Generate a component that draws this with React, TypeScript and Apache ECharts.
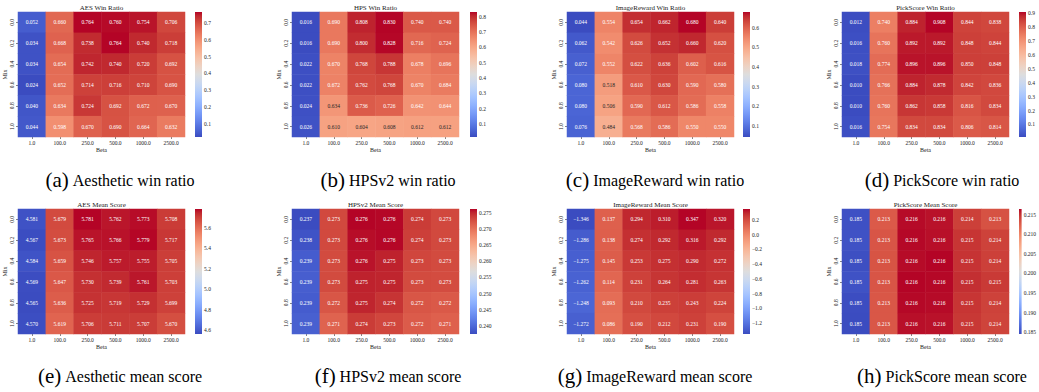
import React, { useEffect, useRef } from "react";
import * as echarts from "echarts";

// ---------- data ----------
const betaLabels = ["1.0", "100.0", "250.0", "500.0", "1000.0", "2500.0"];
const mixLabels = ["0.0", "0.2", "0.4", "0.6", "0.8", "1.0"];

const aesWin = [
  [0.052, 0.66, 0.764, 0.76, 0.754, 0.706],
  [0.034, 0.668, 0.738, 0.764, 0.74, 0.718],
  [0.034, 0.654, 0.742, 0.74, 0.72, 0.692],
  [0.024, 0.652, 0.714, 0.716, 0.71, 0.69],
  [0.04, 0.634, 0.724, 0.692, 0.672, 0.67],
  [0.044, 0.598, 0.67, 0.69, 0.664, 0.632],
];
const hpsWin = [
  [0.016, 0.69, 0.808, 0.83, 0.74, 0.74],
  [0.016, 0.69, 0.8, 0.828, 0.716, 0.724],
  [0.022, 0.67, 0.768, 0.788, 0.678, 0.696],
  [0.022, 0.672, 0.762, 0.768, 0.67, 0.684],
  [0.024, 0.634, 0.736, 0.726, 0.642, 0.644],
  [0.026, 0.61, 0.604, 0.608, 0.612, 0.612],
];
const irWin = [
  [0.044, 0.554, 0.654, 0.662, 0.68, 0.64],
  [0.062, 0.542, 0.626, 0.652, 0.66, 0.62],
  [0.072, 0.552, 0.622, 0.636, 0.602, 0.616],
  [0.08, 0.518, 0.61, 0.63, 0.59, 0.58],
  [0.08, 0.506, 0.59, 0.612, 0.586, 0.558],
  [0.076, 0.484, 0.568, 0.586, 0.55, 0.55],
];
const pickWin = [
  [0.012, 0.74, 0.884, 0.908, 0.844, 0.838],
  [0.016, 0.76, 0.892, 0.892, 0.848, 0.844],
  [0.018, 0.774, 0.896, 0.896, 0.85, 0.848],
  [0.01, 0.766, 0.884, 0.878, 0.842, 0.836],
  [0.01, 0.76, 0.862, 0.858, 0.816, 0.834],
  [0.016, 0.754, 0.834, 0.834, 0.806, 0.814],
];
const aesMean = [
  [4.581, 5.679, 5.781, 5.762, 5.773, 5.708],
  [4.567, 5.673, 5.765, 5.766, 5.779, 5.717],
  [4.584, 5.659, 5.746, 5.757, 5.755, 5.705],
  [4.569, 5.647, 5.73, 5.739, 5.761, 5.703],
  [4.565, 5.636, 5.725, 5.719, 5.729, 5.699],
  [4.57, 5.619, 5.706, 5.711, 5.707, 5.67],
];
const hpsMean = [
  [0.2374, 0.2731, 0.2763, 0.2762, 0.274, 0.2732],
  [0.238, 0.2731, 0.276, 0.2762, 0.2738, 0.2731],
  [0.2388, 0.273, 0.2758, 0.2753, 0.2733, 0.273],
  [0.239, 0.273, 0.2753, 0.2752, 0.273, 0.2729],
  [0.2388, 0.2722, 0.2752, 0.2744, 0.2722, 0.272],
  [0.2391, 0.2712, 0.274, 0.2733, 0.2718, 0.2714],
];
const irMean = [
  [-1.346, 0.137, 0.294, 0.31, 0.347, 0.32],
  [-1.286, 0.138, 0.274, 0.292, 0.316, 0.292],
  [-1.275, 0.145, 0.253, 0.275, 0.29, 0.272],
  [-1.262, 0.114, 0.231, 0.264, 0.281, 0.263],
  [-1.248, 0.093, 0.21, 0.235, 0.243, 0.224],
  [-1.272, 0.086, 0.19, 0.212, 0.231, 0.19],
];
const pickMean = [
  [0.1849, 0.2128, 0.2162, 0.216, 0.2143, 0.2133],
  [0.185, 0.2131, 0.2163, 0.2161, 0.2148, 0.2142],
  [0.1848, 0.2132, 0.2162, 0.2164, 0.2149, 0.2143],
  [0.185, 0.2131, 0.2164, 0.2163, 0.2151, 0.2146],
  [0.1847, 0.213, 0.2163, 0.2162, 0.2148, 0.2142],
  [0.1846, 0.213, 0.2161, 0.216, 0.2147, 0.2141],
];

const ticksWinA = [0.1, 0.2, 0.3, 0.4, 0.5, 0.6, 0.7];
const ticksWinB = [0.1, 0.2, 0.3, 0.4, 0.5, 0.6, 0.7, 0.8];
const ticksWinC = [0.1, 0.2, 0.3, 0.4, 0.5, 0.6];
const ticksWinD = [0.1, 0.2, 0.3, 0.4, 0.5, 0.6, 0.7, 0.8, 0.9];
const ticksMeanE = [4.6, 4.8, 5.0, 5.2, 5.4, 5.6];
const ticksMeanF = [0.24, 0.245, 0.25, 0.255, 0.26, 0.265, 0.27, 0.275];
const ticksMeanG = [-1.2, -1.0, -0.8, -0.6, -0.4, -0.2, 0.0, 0.2];
const ticksMeanH = [0.185, 0.19, 0.195, 0.2, 0.205, 0.21, 0.215];

const titles = [
  "AES Win Ratio", "HPS Win Ratio", "ImageReward Win Ratio", "PickScore Win Ratio",
  "AES Mean Score", "HPSv2 Mean Score", "ImageReward Mean Score", "PickScore Mean Score",
];
const captionTags = ["(a)", "(b)", "(c)", "(d)", "(e)", "(f)", "(g)", "(h)"];
const captionTexts = [
  "Aesthetic win ratio", "HPSv2 win ratio", "ImageReward win ratio", "PickScore win ratio",
  "Aesthetic mean score", "HPSv2 mean score", "ImageReward mean score", "PickScore mean score",
];
const matrices = [aesWin, hpsWin, irWin, pickWin, aesMean, hpsMean, irMean, pickMean];
const tickSets = [ticksWinA, ticksWinB, ticksWinC, ticksWinD, ticksMeanE, ticksMeanF, ticksMeanG, ticksMeanH];
const tickDigits = [1, 1, 1, 1, 1, 3, 1, 3];

// ---------- layout / style ----------
const FONT = "'Liberation Serif', 'DejaVu Serif', serif";
const gridLefts = [18, 292, 567, 842];
const cbLefts = [195, 470, 743, 1019];
const rowTops = [12, 209];
const GW = 167;
const GH = 125;
const CBW = 7;
const captionX = [120, 388, 655, 942];
const captionY = [180, 376];

const CW = [[59,76,192],[68,90,204],[77,104,215],[87,117,225],[98,130,234],[108,142,241],[119,154,247],[130,165,251],[141,176,254],[152,185,255],[163,194,255],[174,201,253],[184,208,249],[194,213,244],[204,217,238],[213,219,230],[221,221,221],[229,216,209],[236,211,197],[241,204,184],[245,196,172],[247,187,159],[247,177,147],[247,166,134],[244,154,123],[241,141,111],[236,127,99],[229,112,88],[222,96,77],[213,80,66],[203,62,56],[192,40,47],[180,4,38]];
const cwHex = CW.map((c) => `rgb(${c[0]},${c[1]},${c[2]})`);

function cwRGB(t: number): number[] {
  const tt = Math.max(0, Math.min(1, t)) * (CW.length - 1);
  const i = Math.min(CW.length - 2, Math.floor(tt));
  const f = tt - i;
  return [0, 1, 2].map((k) => CW[i][k] + (CW[i + 1][k] - CW[i][k]) * f);
}
function lum(rgb: number[]): number {
  const l = rgb.map((v) => {
    const c = v / 255;
    return c <= 0.03928 ? c / 12.92 : Math.pow((c + 0.055) / 1.055, 2.4);
  });
  return 0.2126 * l[0] + 0.7152 * l[1] + 0.0722 * l[2];
}
const fmtTick = (v: number, d: number) => {
  const s = Math.abs(v).toFixed(d);
  return v < -1e-9 ? "\u2212" + s : s;
};

function buildOption() {
  const grid: any[] = [];
  const xAxis: any[] = [];
  const yAxis: any[] = [];
  const series: any[] = [];
  const visualMap: any[] = [];
  const graphic: any[] = [];

  matrices.forEach((m, k) => {
    const col = k % 4;
    const row = Math.floor(k / 4);
    const left = gridLefts[col];
    const top = rowTops[row];
    const flat = m.flat();
    const vmin = Math.min(...flat);
    const vmax = Math.max(...flat);

    grid.push({ left, top, width: GW, height: GH });
    grid.push({ left: cbLefts[col], top, width: CBW, height: GH });

    xAxis.push({
      type: "category", gridIndex: k * 2, data: betaLabels, position: "bottom",
      axisLine: { show: false },
      axisTick: { show: true, alignWithLabel: true, length: 2, lineStyle: { color: "#333", width: 0.6 } },
      axisLabel: { fontSize: 5.5, fontFamily: FONT, color: "#222", margin: 3, interval: 0 },
      splitLine: { show: false },
      name: "Beta", nameLocation: "middle", nameGap: 10,
      nameTextStyle: { fontSize: 6, fontFamily: FONT, color: "#222" },
    });
    yAxis.push({
      type: "category", gridIndex: k * 2, data: mixLabels, inverse: true,
      axisLine: { show: false },
      axisTick: { show: true, alignWithLabel: true, length: 2, lineStyle: { color: "#333", width: 0.6 } },
      axisLabel: { fontSize: 5.5, fontFamily: FONT, color: "#222", margin: 3, rotate: 90, interval: 0 },
      splitLine: { show: false },
      name: "Mix", nameLocation: "middle", nameGap: 10, nameRotate: 90,
      nameTextStyle: { fontSize: 6, fontFamily: FONT, color: "#222" },
    });
    xAxis.push({ type: "value", gridIndex: k * 2 + 1, min: 0, max: 1, show: false });
    const ticks = tickSets[k];
    const d = tickDigits[k];
    yAxis.push({
      type: "value", gridIndex: k * 2 + 1, min: vmin, max: vmax, position: "right",
      axisLine: { show: false },
      splitLine: { show: false },
      axisTick: { show: true, length: 2, customValues: ticks, lineStyle: { color: "#333", width: 0.6 } },
      axisLabel: {
        customValues: ticks, fontSize: 5.5, fontFamily: FONT, color: "#222", margin: 2,
        formatter: (v: number) => fmtTick(v, d),
      },
    });

    const items: any[] = [];
    m.forEach((r, yi) =>
      r.forEach((v, xi) => {
        const t = (v - vmin) / (vmax - vmin);
        const c = lum(cwRGB(t)) > 0.408 ? "#262626" : "#ffffff";
        items.push({ value: [xi, yi, v], label: { color: c } });
      })
    );
    series.push({
      type: "heatmap", xAxisIndex: k * 2, yAxisIndex: k * 2, data: items,
      label: {
        show: true, fontSize: 5.5, fontFamily: FONT,
        formatter: (p: any) => fmtTick(p.value[2], 3),
      },
      itemStyle: { borderWidth: 0 },
      emphasis: { disabled: true },
    });
    const stops = cwHex.map((c, i) => ({ offset: i / (cwHex.length - 1), color: c }));
    series.push({
      type: "custom", xAxisIndex: k * 2 + 1, yAxisIndex: k * 2 + 1,
      data: [[0, vmin, 1, vmax]],
      encode: { x: [0, 2], y: [1, 3] },
      silent: true,
      renderItem: (params: any, api: any) => {
        const a = api.coord([api.value(0), api.value(3)]);
        const b = api.coord([api.value(2), api.value(1)]);
        return {
          type: "rect",
          shape: { x: a[0], y: a[1], width: b[0] - a[0], height: b[1] - a[1] },
          style: { fill: new echarts.graphic.LinearGradient(0, 1, 0, 0, stops) },
        };
      },
    });
    visualMap.push({
      show: false, type: "continuous", seriesIndex: k * 2, dimension: 2,
      min: vmin, max: vmax, inRange: { color: cwHex },
    });

    graphic.push({
      type: "text", x: left + GW / 2, y: top - 4,
      style: { text: titles[k], fontSize: 7, fontFamily: FONT, fill: "#222", align: "center", verticalAlign: "middle" },
    });
    graphic.push({
      type: "text", x: captionX[col], y: captionY[row],
      style: {
        text: `{l|${captionTags[k]}}{s| }{t|${captionTexts[k]}}`,
        fontFamily: FONT, fontSize: 16,
        align: "center", verticalAlign: "middle", fill: "#000",
        rich: {
          l: { fontSize: 21, fontFamily: FONT, fill: "#000" },
          s: { fontSize: 16, fontFamily: FONT, fill: "#000" },
          t: { fontSize: 16, fontFamily: FONT, fill: "#000" },
        },
      },
    });
  });

  return { animation: false, backgroundColor: "#fff", grid, xAxis, yAxis, series, visualMap, graphic };
}

export default function App() {
  const ref = useRef<HTMLDivElement>(null);
  useEffect(() => {
    if (!ref.current) return;
    const chart = echarts.init(ref.current, undefined, { renderer: "svg" });
    chart.setOption(buildOption() as any);
    return () => chart.dispose();
  }, []);
  return (
    <div
      ref={ref}
      style={{ position: "absolute", left: 0, top: 0, width: 1039, height: 392, background: "#fff" }}
    />
  );
}
